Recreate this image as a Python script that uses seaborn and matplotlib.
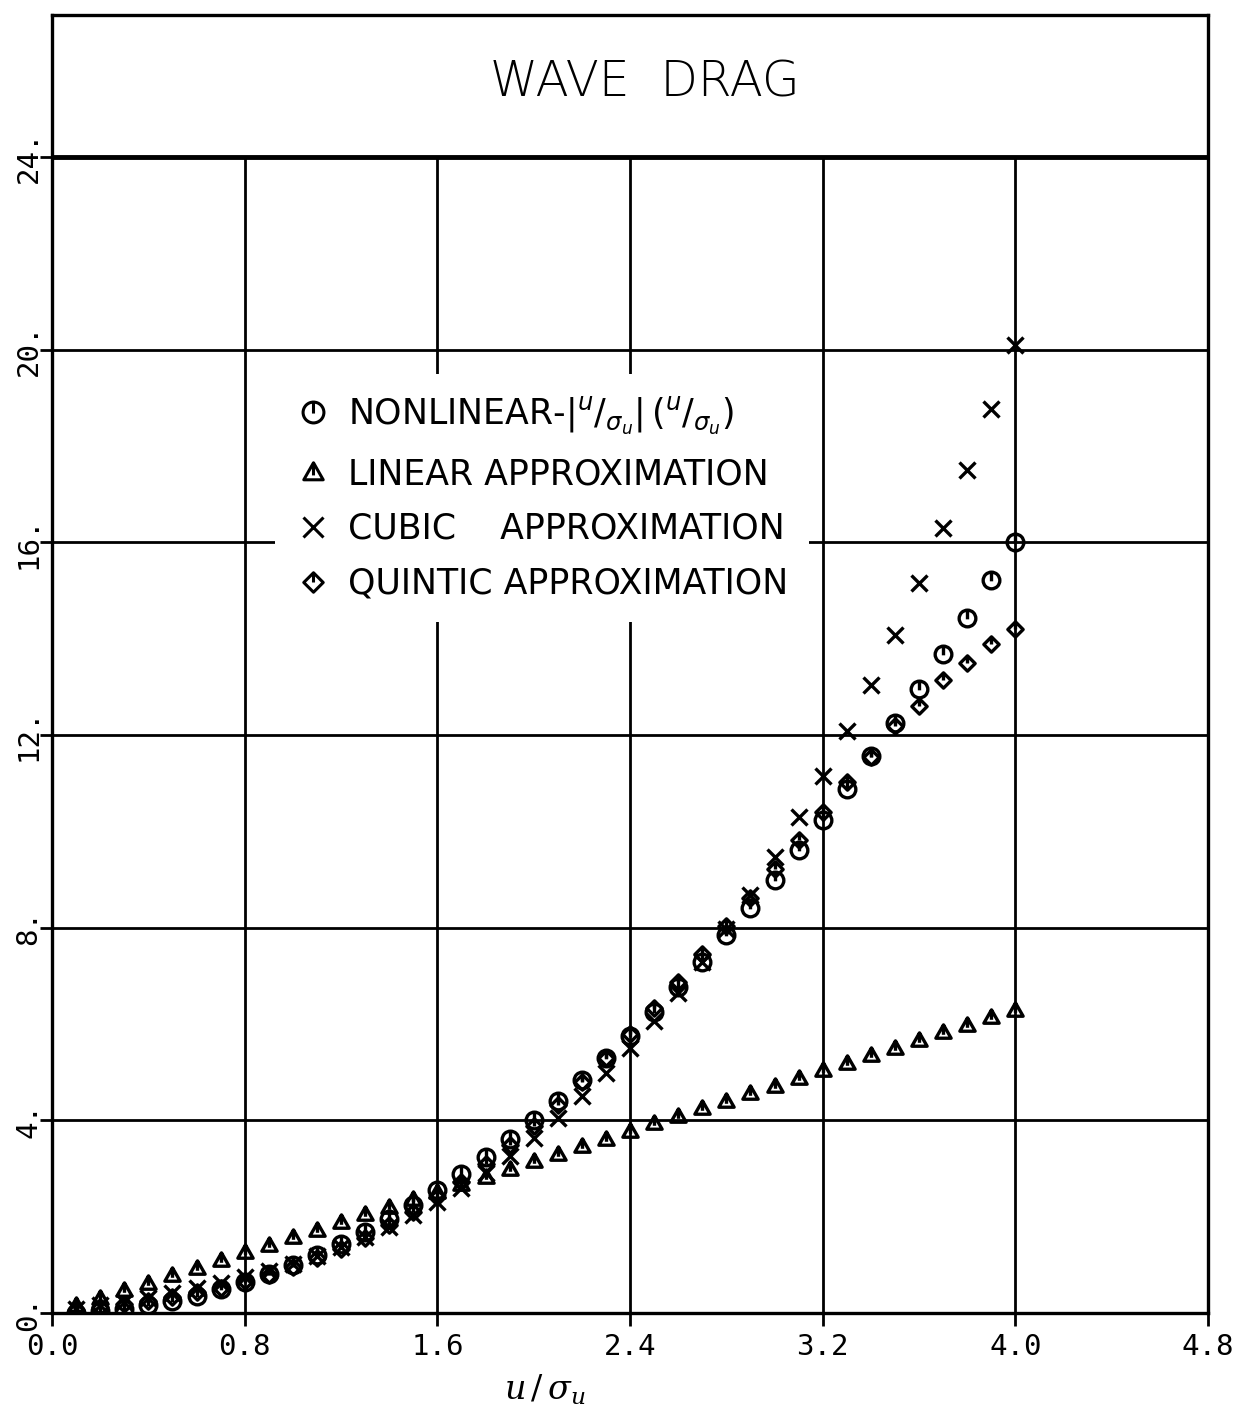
import pandas as pd
import seaborn as sns
import matplotlib.pyplot as plt
from matplotlib.path import Path
from matplotlib.lines import Line2D


# values, u/sigma_u = 0.1 ... 4.0
u_sigma = [0.1, 0.2, 0.3, 0.4, 0.5, 0.6, 0.7, 0.8, 0.9, 1.0,
           1.1, 1.2, 1.3, 1.4, 1.5, 1.6, 1.7, 1.8, 1.9, 2.0,
           2.1, 2.2, 2.3, 2.4, 2.5, 2.6, 2.7, 2.8, 2.9, 3.0,
           3.1, 3.2, 3.3, 3.4, 3.5, 3.6, 3.7, 3.8, 3.9, 4.0]

nonlinear = [0.01, 0.04, 0.09, 0.16, 0.25, 0.36, 0.49, 0.64, 0.81, 1.00,
             1.21, 1.44, 1.69, 1.96, 2.25, 2.56, 2.89, 3.24, 3.61, 4.00,
             4.41, 4.84, 5.29, 5.76, 6.25, 6.76, 7.29, 7.84, 8.41, 9.00,
             9.61, 10.24, 10.89, 11.56, 12.25, 12.96, 13.69, 14.44, 15.21, 16.00]

linear = [0.16, 0.31, 0.47, 0.63, 0.79, 0.94, 1.10, 1.26, 1.42, 1.57,
          1.73, 1.89, 2.05, 2.20, 2.36, 2.52, 2.68, 2.83, 2.99, 3.15,
          3.31, 3.46, 3.62, 3.78, 3.94, 4.09, 4.25, 4.41, 4.57, 4.72,
          4.88, 5.04, 5.20, 5.35, 5.51, 5.67, 5.83, 5.98, 6.14, 6.30]

cubic = [0.08, 0.17, 0.23, 0.32, 0.41, 0.51, 0.62, 0.74, 0.87, 1.02,
         1.18, 1.37, 1.57, 1.79, 2.03, 2.30, 2.59, 2.91, 3.26, 3.64,
         4.06, 4.50, 4.98, 5.50, 6.06, 6.65, 7.29, 7.97, 8.69, 9.47,
         10.29, 11.16, 12.08, 13.05, 14.08, 15.16, 16.30, 17.51, 18.77, 20.10]

quintic = [0.06, 0.12, 0.18, 0.25, 0.34, 0.43, 0.53, 0.66, 0.80, 0.96,
           1.14, 1.34, 1.56, 1.82, 2.09, 2.40, 2.73, 3.09, 3.48, 3.89,
           4.33, 4.80, 5.29, 5.80, 6.33, 6.88, 7.45, 8.03, 8.62, 9.21,
           9.83, 10.40, 11.02, 11.55, 12.18, 12.61, 13.15, 13.49, 13.90, 14.20]

labels = [r"NONLINEAR-$|^{u}/_{\sigma_u}|\,(^{u}/_{\sigma_u})$",
          "LINEAR APPROXIMATION",
          "CUBIC    APPROXIMATION",
          "QUINTIC APPROXIMATION"]

x_ticks = [0.0, 0.8, 1.6, 2.4, 3.2, 4.0, 4.8]
x_tick_labels = ["0.0", "0.8", "1.6", "2.4", "3.2", "4.0", "4.8"]
y_ticks = [0, 4, 8, 12, 16, 20, 24]
y_tick_labels = ["0.", "4.", "8.", "12.", "16.", "20.", "24."]

df = pd.DataFrame({"u": u_sigma, "nonlinear": nonlinear, "linear": linear,
                   "cubic": cubic, "quintic": quintic})

sns.set_theme(style="white")
plt.rcParams["font.family"] = ["DejaVu Sans"]
plt.rcParams["mathtext.fontset"] = "dejavusans"
plt.rcParams["text.color"] = "black"
plt.rcParams["xtick.color"] = "black"
plt.rcParams["ytick.color"] = "black"

# plotter-style symbols: outline shape with a stroke from the top
M, L, C = Path.MOVETO, Path.LINETO, Path.CLOSEPOLY
bar_long = Path([(0, 1), (0, -0.1)], [M, L])
circ_mk = Path.make_compound_path(Path.unit_circle(), bar_long)
tri_mk = Path.make_compound_path(
    Path([(0, 1), (-1, -0.75), (1, -0.75), (0, 1)], [M, L, L, C]),
    Path([(0, 1), (0, -0.3)], [M, L]))
dia_mk = Path.make_compound_path(
    Path([(0, 1), (1, 0), (0, -1), (-1, 0), (0, 1)], [M, L, L, L, C]),
    Path([(0, 1), (0, 0)], [M, L]))

styles = [("nonlinear", circ_mk, 12), ("linear", tri_mk, 11),
          ("cubic", "x", 12), ("quintic", dia_mk, 11)]

fig = plt.figure(figsize=(12.53, 14.16), dpi=100)
ax = fig.add_axes([0.0415, 0.0727, 0.9226, 0.9167])

# grid only inside the data region, heavy rule under the title box
ax.hlines([4, 8, 12, 16, 20], 0, 4.8, color="black", lw=2, zorder=1)
ax.vlines([0.8, 1.6, 2.4, 3.2, 4.0], 0, 24, color="black", lw=2, zorder=1)
ax.axhline(24, color="black", lw=3.5, zorder=1)

handles = []
for col, mk, ms in styles:
    sns.lineplot(data=df, x="u", y=col, ax=ax, estimator=None, legend=False,
                 color="black", linestyle="", marker=mk, markersize=ms,
                 markerfacecolor="none", markeredgecolor="black",
                 markeredgewidth=2.4, zorder=3)
    handles.append(Line2D([], [], ls="", marker=mk, markersize=ms + 3,
                          markerfacecolor="none", markeredgecolor="black",
                          markeredgewidth=2.2))

ax.set_xlim(0, 4.8)
ax.set_ylim(0, 26.95)
ax.set_xticks(x_ticks)
ax.set_xticklabels(x_tick_labels, family="DejaVu Sans Mono", fontsize=21)
ax.set_yticks(y_ticks)
ax.set_yticklabels(y_tick_labels, family="DejaVu Sans Mono", fontsize=21,
                   rotation=90, va="center", ha="center")
ax.tick_params(axis="both", direction="out", length=9, width=2,
               color="black", bottom=True, left=True)
ax.tick_params(axis="x", pad=5)
ax.tick_params(axis="y", pad=8)

for sp in ax.spines.values():
    sp.set_linewidth(2.4)
    sp.set_color("black")

ax.set_xlabel("")
ax.set_ylabel("")
fig.text(545 / 1253, 1 - 1390 / 1416, r"$u\,/\,\sigma_u$", fontsize=24,
         ha="center", va="center", math_fontfamily="dejavuserif")

ax.text(2.46, 25.55, "WAVE  DRAG", fontsize=35, ha="center", va="center",
        color="black", fontweight="light")

leg = ax.legend(handles, labels, loc="upper left",
                bbox_to_anchor=(0.178, 0.737), fontsize=25, frameon=True,
                fancybox=False, framealpha=1, facecolor="white",
                edgecolor="none", handlelength=1.0, handletextpad=0.5,
                labelspacing=0.6, borderpad=0.6)
for t in leg.get_texts():
    t.set_color("black")
leg.set_zorder(5)

fig.savefig("out.png", dpi=100, facecolor="white")
